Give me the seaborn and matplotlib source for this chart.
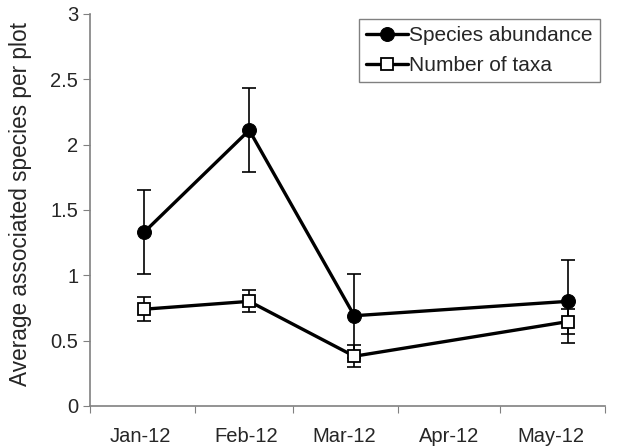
import matplotlib
matplotlib.use("Agg")
import matplotlib.pyplot as plt
import matplotlib.dates as mdates
import seaborn as sns
import pandas as pd

# sampling dates (mid-month, no sample in April)
dates = pd.to_datetime(["2012-01-17", "2012-02-17", "2012-03-19", "2012-05-21"])
abundance = [1.33, 2.11, 0.69, 0.80]
abundance_se = [0.32, 0.32, 0.32, 0.32]
taxa = [0.74, 0.80, 0.38, 0.645]
taxa_se = [0.09, 0.085, 0.085, 0.095]
month_ticks = pd.date_range("2012-01-01", "2012-06-01", freq="MS")

sns.set_style("ticks")
plt.rcParams["font.family"] = ["Liberation Sans", "DejaVu Sans"]

fig, ax = plt.subplots(figsize=(6.25, 4.48), dpi=100)
fig.subplots_adjust(left=0.144, right=0.968, bottom=0.094, top=0.969)

df = pd.DataFrame({"date": dates, "abundance": abundance, "taxa": taxa})

ax.errorbar(dates, abundance, yerr=abundance_se, fmt="none", ecolor="black",
            elinewidth=1.2, capsize=5, capthick=1.2, zorder=2)
ax.errorbar(dates, taxa, yerr=taxa_se, fmt="none", ecolor="black",
            elinewidth=1.2, capsize=5, capthick=1.2, zorder=2)

sns.lineplot(data=df, x="date", y="abundance", ax=ax, color="black", lw=2.4,
             marker="o", markersize=10, markerfacecolor="black",
             markeredgecolor="black", label="Species abundance", zorder=3)
sns.lineplot(data=df, x="date", y="taxa", ax=ax, color="black", lw=2.4,
             marker="s", markersize=9, markerfacecolor="white",
             markeredgecolor="black", markeredgewidth=1.3,
             label="Number of taxa", zorder=3)

ax.set_xlim(month_ticks[0], month_ticks[-1])
ax.set_ylim(0, 3)
ax.set_yticks([0, 0.5, 1, 1.5, 2, 2.5, 3])
ax.set_yticklabels(["0", "0.5", "1", "1.5", "2", "2.5", "3"])

# major ticks at month boundaries, labels centred in each month
ax.xaxis.set_major_locator(mdates.MonthLocator())
ax.xaxis.set_major_formatter(plt.NullFormatter())
ax.xaxis.set_minor_locator(mdates.MonthLocator(bymonthday=16))
ax.xaxis.set_minor_formatter(mdates.DateFormatter("%b-%y"))
ax.tick_params(axis="x", which="minor", length=0, labelsize=14.5, pad=15)
ax.tick_params(axis="x", which="major", length=5, color="#808080")
ax.tick_params(axis="y", labelsize=14.5, length=5, color="#808080")
ax.set_xlabel("")
ax.set_ylabel("Average associated species per plot", fontsize=16.3)
ax.yaxis.set_label_coords(-0.113, 0.515)

sns.despine(ax=ax)
for s in ["left", "bottom"]:
    ax.spines[s].set_color("#808080")
    ax.spines[s].set_linewidth(1.2)

leg = ax.legend(loc="upper right", fontsize=15, frameon=True, fancybox=False,
                handlelength=2.0, handletextpad=0.05, borderpad=0.35,
                borderaxespad=0.25, labelspacing=0.5,
                bbox_to_anchor=(1.0, 1.0))
leg.get_frame().set_edgecolor("#606060")
leg.get_frame().set_linewidth(1.0)

fig.savefig("out.png", dpi=100)
